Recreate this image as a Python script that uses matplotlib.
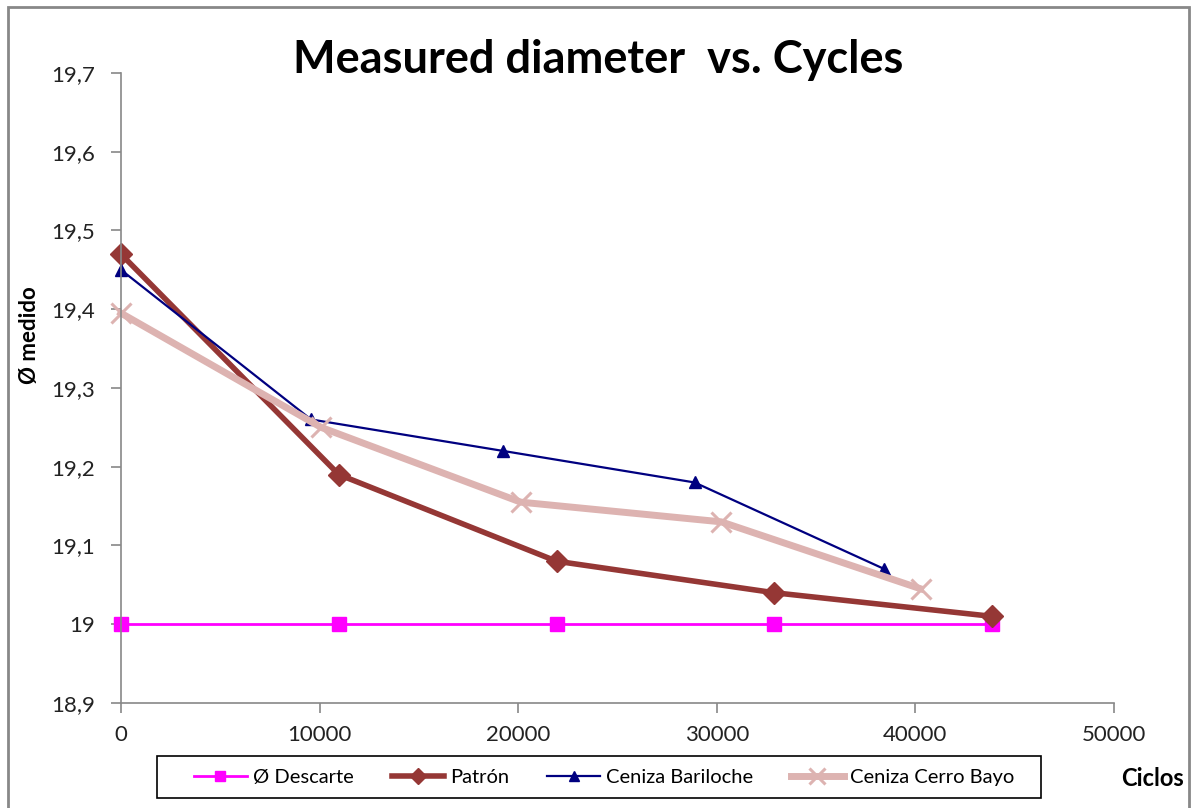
import matplotlib.pyplot as plt
from matplotlib.patches import Rectangle
from matplotlib.ticker import FuncFormatter

plt.rcParams['font.family'] = ['Lato', 'DejaVu Sans']

# datos
ciclos_patron = [0, 10970, 21930, 32880, 43850]
descarte = [19.0, 19.0, 19.0, 19.0, 19.0]
patron = [19.47, 19.19, 19.08, 19.04, 19.01]

ciclos_bariloche = [0, 9570, 19250, 28880, 38440]
bariloche = [19.45, 19.26, 19.22, 19.18, 19.07]

ciclos_cerro = [0, 10070, 20130, 30220, 40260]
cerro_bayo = [19.395, 19.25, 19.155, 19.13, 19.045]

x_ticks = [0, 10000, 20000, 30000, 40000, 50000]
y_ticks = [18.9, 19.0, 19.1, 19.2, 19.3, 19.4, 19.5, 19.6, 19.7]

W, H = 1193, 808
fig = plt.figure(figsize=(W / 100, H / 100), dpi=100)
ax = fig.add_axes([0.1014, 0.130, 0.8324, 0.7797])

ax.plot(ciclos_patron, descarte, color='#FF00FF', lw=2, marker='s', ms=10,
        label='Ø Descarte')
ax.plot(ciclos_patron, patron, color='#953735', lw=4, marker='D', ms=11,
        label='Patrón')
ax.plot(ciclos_bariloche, bariloche, color='#000080', lw=1.6, marker='^', ms=9,
        label='Ceniza Bariloche')
ax.plot(ciclos_cerro, cerro_bayo, color='#DDB3B1', lw=5, marker='x', ms=15,
        mew=2.2, label='Ceniza Cerro Bayo')

ax.set_xlim(0, 50000)
ax.set_ylim(18.9, 19.7)
ax.set_xticks(x_ticks)
ax.set_yticks(y_ticks)
ax.yaxis.set_major_formatter(FuncFormatter(lambda v, p: ('%g' % round(v, 2)).replace('.', ',')))

for s in ['top', 'right']:
    ax.spines[s].set_visible(False)
for s in ['left', 'bottom']:
    ax.spines[s].set_color('#888888')
    ax.spines[s].set_linewidth(1.2)
ax.tick_params(direction='out', length=7, width=1.2, color='#888888',
               labelsize=16, labelcolor='#222222')
ax.tick_params(axis='y', pad=12)
ax.tick_params(axis='x', pad=9)
ax.margins(0)
for l in ax.lines:
    l.set_clip_on(False)

fig.text(0.501, 1 - 60 / H, 'Measured diameter  vs. Cycles', ha='center', va='center',
         fontsize=32.5, fontweight='bold')
fig.text(30 / W, 1 - 335 / H, 'Ø medido', rotation=90, ha='center', va='center',
         fontsize=16, fontweight='bold')
fig.text(1152 / W, 1 - 778 / H, 'Ciclos', ha='center', va='center',
         fontsize=17, fontweight='bold')

leg = fig.legend(loc='center', bbox_to_anchor=(604 / W, 1 - 777 / H), ncol=4,
                 fontsize=14.5, frameon=False, markerscale=0.75,
                 handlelength=2.6, handletextpad=0.3, columnspacing=1.9)

# caja de la leyenda
fig.patches.append(Rectangle((157 / W, 1 - 798 / H), 884 / W, 42 / H,
                             transform=fig.transFigure, fill=False,
                             edgecolor='black', lw=1.2))

# marco exterior
fig.patches.append(Rectangle((8 / W, -0.01), 1181 / W, 1 - 7 / H + 0.01,
                             transform=fig.transFigure, fill=False,
                             edgecolor='#888888', lw=2))

fig.savefig('out.png', dpi=100)
